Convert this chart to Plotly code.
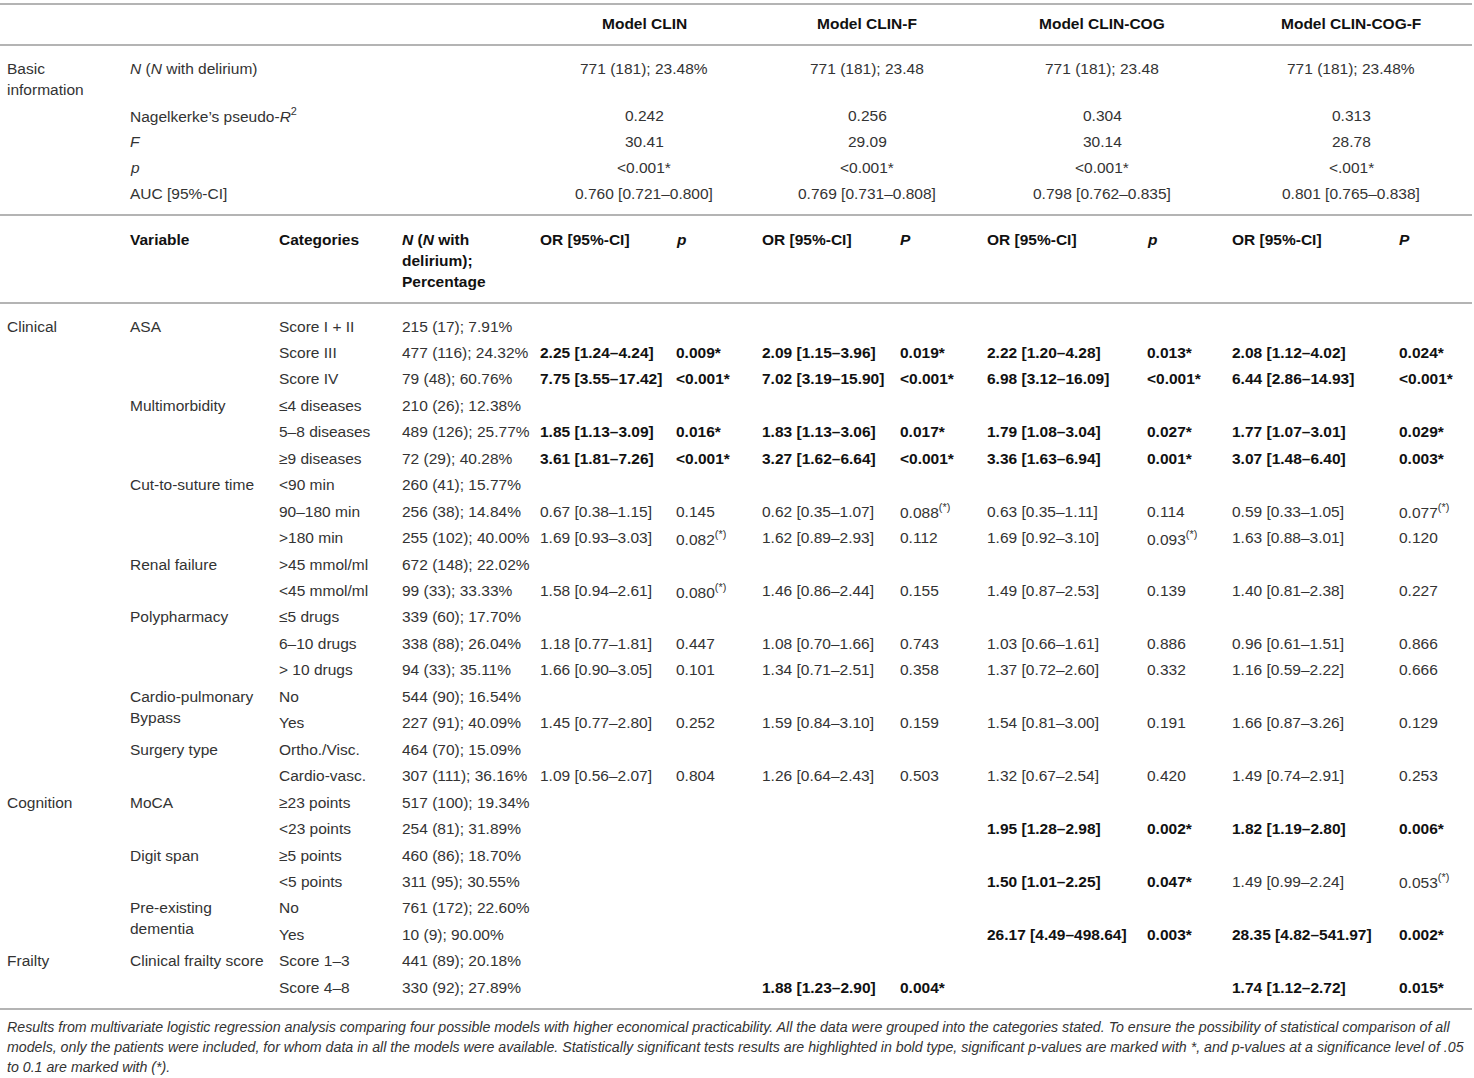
import plotly.graph_objects as go

# ---------------- data ----------------
models = ["Model CLIN", "Model CLIN-F", "Model CLIN-COG", "Model CLIN-COG-F"]
p_headers = ["p", "P", "p", "P"]

basic_group = "Basic<br>information"
basic_labels = ["<i>N</i> (<i>N</i> with delirium)", "Nagelkerke’s pseudo-<i>R</i><sup>2</sup>",
                "<i>F</i>", "<i>p</i>", "AUC [95%-CI]"]
basic_n = ["771 (181); 23.48%", "771 (181); 23.48", "771 (181); 23.48", "771 (181); 23.48%"]
basic_r2 = ["0.242", "0.256", "0.304", "0.313"]
basic_f = ["30.41", "29.09", "30.14", "28.78"]
basic_p = ["<0.001*", "<0.001*", "<0.001*", "<.001*"]
basic_auc = ["0.760 [0.721–0.800]", "0.769 [0.731–0.808]", "0.798 [0.762–0.835]", "0.801 [0.765–0.838]"]

groups = ["Clinical", "", "", "", "", "", "", "", "", "", "", "", "", "", "", "", "", "",
          "Cognition", "", "", "", "", "", "Frailty", ""]
variables = ["ASA", "", "", "Multimorbidity", "", "", "Cut-to-suture time", "", "",
             "Renal failure", "", "Polypharmacy", "", "", "Cardio-pulmonary<br>Bypass", "",
             "Surgery type", "", "MoCA", "", "Digit span", "", "Pre-existing<br>dementia", "",
             "Clinical frailty score", ""]
categories = ["Score I + II", "Score III", "Score IV", "≤4 diseases", "5–8 diseases", "≥9 diseases",
              "<90 min", "90–180 min", ">180 min", ">45 mmol/ml", "<45 mmol/ml",
              "≤5 drugs", "6–10 drugs", "> 10 drugs", "No", "Yes", "Ortho./Visc.", "Cardio-vasc.",
              "≥23 points", "<23 points", "≥5 points", "<5 points", "No", "Yes",
              "Score 1–3", "Score 4–8"]
n_delirium = ["215 (17); 7.91%", "477 (116); 24.32%", "79 (48); 60.76%", "210 (26); 12.38%",
              "489 (126); 25.77%", "72 (29); 40.28%", "260 (41); 15.77%", "256 (38); 14.84%",
              "255 (102); 40.00%", "672 (148); 22.02%", "99 (33); 33.33%", "339 (60); 17.70%",
              "338 (88); 26.04%", "94 (33); 35.11%", "544 (90); 16.54%", "227 (91); 40.09%",
              "464 (70); 15.09%", "307 (111); 36.16%", "517 (100); 19.34%", "254 (81); 31.89%",
              "460 (86); 18.70%", "311 (95); 30.55%", "761 (172); 22.60%", "10 (9); 90.00%",
              "441 (89); 20.18%", "330 (92); 27.89%"]

or_clin = ["", "2.25 [1.24–4.24]", "7.75 [3.55–17.42]", "", "1.85 [1.13–3.09]", "3.61 [1.81–7.26]",
           "", "0.67 [0.38–1.15]", "1.69 [0.93–3.03]", "", "1.58 [0.94–2.61]", "",
           "1.18 [0.77–1.81]", "1.66 [0.90–3.05]", "", "1.45 [0.77–2.80]", "", "1.09 [0.56–2.07]",
           "", "", "", "", "", "", "", ""]
p_clin = ["", "0.009*", "<0.001*", "", "0.016*", "<0.001*", "", "0.145", "0.082(*)", "",
          "0.080(*)", "", "0.447", "0.101", "", "0.252", "", "0.804", "", "", "", "", "", "", "", ""]

or_clin_f = ["", "2.09 [1.15–3.96]", "7.02 [3.19–15.90]", "", "1.83 [1.13–3.06]", "3.27 [1.62–6.64]",
             "", "0.62 [0.35–1.07]", "1.62 [0.89–2.93]", "", "1.46 [0.86–2.44]", "",
             "1.08 [0.70–1.66]", "1.34 [0.71–2.51]", "", "1.59 [0.84–3.10]", "", "1.26 [0.64–2.43]",
             "", "", "", "", "", "", "", "1.88 [1.23–2.90]"]
p_clin_f = ["", "0.019*", "<0.001*", "", "0.017*", "<0.001*", "", "0.088(*)", "0.112", "",
            "0.155", "", "0.743", "0.358", "", "0.159", "", "0.503", "", "", "", "", "", "", "", "0.004*"]

or_clin_cog = ["", "2.22 [1.20–4.28]", "6.98 [3.12–16.09]", "", "1.79 [1.08–3.04]", "3.36 [1.63–6.94]",
               "", "0.63 [0.35–1.11]", "1.69 [0.92–3.10]", "", "1.49 [0.87–2.53]", "",
               "1.03 [0.66–1.61]", "1.37 [0.72–2.60]", "", "1.54 [0.81–3.00]", "", "1.32 [0.67–2.54]",
               "", "1.95 [1.28–2.98]", "", "1.50 [1.01–2.25]", "", "26.17 [4.49–498.64]", "", ""]
p_clin_cog = ["", "0.013*", "<0.001*", "", "0.027*", "0.001*", "", "0.114", "0.093(*)", "",
              "0.139", "", "0.886", "0.332", "", "0.191", "", "0.420", "", "0.002*", "", "0.047*",
              "", "0.003*", "", ""]

or_clin_cog_f = ["", "2.08 [1.12–4.02]", "6.44 [2.86–14.93]", "", "1.77 [1.07–3.01]", "3.07 [1.48–6.40]",
                 "", "0.59 [0.33–1.05]", "1.63 [0.88–3.01]", "", "1.40 [0.81–2.38]", "",
                 "0.96 [0.61–1.51]", "1.16 [0.59–2.22]", "", "1.66 [0.87–3.26]", "", "1.49 [0.74–2.91]",
                 "", "1.82 [1.19–2.80]", "", "1.49 [0.99–2.24]", "", "28.35 [4.82–541.97]", "",
                 "1.74 [1.12–2.72]"]
p_clin_cog_f = ["", "0.024*", "<0.001*", "", "0.029*", "0.003*", "", "0.077(*)", "0.120", "",
                "0.227", "", "0.866", "0.666", "", "0.129", "", "0.253", "", "0.006*", "", "0.053(*)",
                "", "0.002*", "", "0.015*"]

footnote = [
    "Results from multivariate logistic regression analysis comparing four possible models with higher economical practicability. All the data were grouped into the categories stated. To ensure the possibility of statistical comparison of all",
    "models, only the patients were included, for whom data in all the models were available. Statistically significant tests results are highlighted in bold type, significant p-values are marked with *, and p-values at a significance level of .05",
    "to 0.1 are marked with (*).",
]

# ---------------- layout constants ----------------
W, H = 1474, 1078
FONT = "Liberation Sans, Arial, sans-serif"
FS = 15.5
TXT = "#333333"
BOLD = "#111111"
RULE = "#b4b4b4"
COL_X = [5, 128, 277, 400, 538, 674, 760, 898, 985, 1145, 1230, 1397]
MODEL_CX = [644, 867, 1102, 1351]
HEAD_Y = 23
BASIC_Y = [68, 115, 141, 167, 193]
SUB_Y = 239
ROW0_Y = 326
ROW_DY = 26.45
LINE_DY = 21
RULES_Y = [4, 45, 215, 303, 1009]
FOOT_Y = 1027
FOOT_DY = 20
FOOT_FS = 14.2


def esc(s):
    return s.replace("<", "&lt;").replace(">", "&gt;")


def fmt_p(s):
    s = esc(s)
    if s.endswith("(*)"):
        s = s[:-3] + "<sup>(*)</sup>"
    return s


def sig(p):
    return p.endswith("*") and not p.endswith("(*)")


ann = []


def add(x, y, text, anchor="left", bold=False, color=None, size=FS, italic=False):
    lines = text.split("<br>")
    for k, ln in enumerate(lines):
        t = f"<b>{ln}</b>" if bold else ln
        ann.append(dict(x=x, y=y + k * LINE_DY, xref="x", yref="y", text=t, showarrow=False,
                        xanchor=anchor, yanchor="middle",
                        font=dict(family=FONT, size=size, color=color or (BOLD if bold else TXT),
                                  style="italic" if italic else "normal")))


# header
for m, cx in zip(models, MODEL_CX):
    add(cx, HEAD_Y, m, anchor="center", bold=True)

# basic info block
add(COL_X[0], BASIC_Y[0], basic_group)
for lbl, y in zip(basic_labels, BASIC_Y):
    add(COL_X[1], y, lbl)
for vals, y in zip([basic_n, basic_r2, basic_f, basic_p, basic_auc], BASIC_Y):
    for v, cx in zip(vals, MODEL_CX):
        add(cx, y, esc(v), anchor="center")

# sub header
add(COL_X[1], SUB_Y, "Variable", bold=True)
add(COL_X[2], SUB_Y, "Categories", bold=True)
add(COL_X[3], SUB_Y, "<i>N</i> (<i>N</i> with<br>delirium);<br>Percentage", bold=True)
for j, ph in enumerate(p_headers):
    add(COL_X[4 + 2 * j], SUB_Y, "OR [95%-CI]", bold=True)
    add(COL_X[5 + 2 * j], SUB_Y, f"<i>{ph}</i>", bold=True)

# body
ors = [or_clin, or_clin_f, or_clin_cog, or_clin_cog_f]
ps = [p_clin, p_clin_f, p_clin_cog, p_clin_cog_f]
for i in range(len(categories)):
    y = ROW0_Y + i * ROW_DY
    if groups[i]:
        add(COL_X[0], y, groups[i])
    if variables[i]:
        add(COL_X[1], y, variables[i])
    add(COL_X[2], y, esc(categories[i]))
    add(COL_X[3], y, n_delirium[i])
    for j in range(4):
        o, p = ors[j][i], ps[j][i]
        b = sig(p)
        if o:
            add(COL_X[4 + 2 * j], y, o, bold=b)
        if p:
            add(COL_X[5 + 2 * j], y, fmt_p(p), bold=b)

# footnote
for k, ln in enumerate(footnote):
    add(COL_X[0], FOOT_Y + k * FOOT_DY, ln, size=FOOT_FS, italic=True)

shapes = [dict(type="line", xref="x", yref="y", x0=0, x1=W - 2, y0=yy, y1=yy,
               line=dict(color=RULE, width=2)) for yy in RULES_Y]

fig = go.Figure()
fig.update_layout(
    width=W, height=H, margin=dict(l=0, r=0, t=0, b=0),
    paper_bgcolor="white", plot_bgcolor="white",
    xaxis=dict(range=[0, W], visible=False, fixedrange=True),
    yaxis=dict(range=[H, 0], visible=False, fixedrange=True),
    annotations=ann, shapes=shapes, showlegend=False,
)
fig.write_html("out.html", config={"displayModeBar": False},
               post_script="document.body.style.margin='0';document.body.style.overflow='hidden';")
